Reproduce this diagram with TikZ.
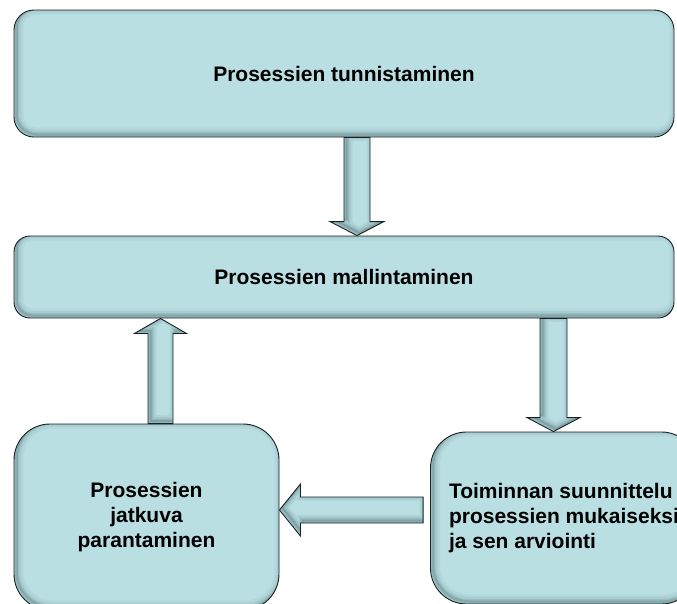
\documentclass[tikz,border=0pt]{standalone}
\usepackage{fontspec}
\setmainfont{Liberation Sans}
\usetikzlibrary{calc}

\definecolor{boxfill}{RGB}{186,223,227}
\definecolor{boxline}{RGB}{25,32,34}
\definecolor{boxshade}{RGB}{40,70,75}

\tikzset{
  % soft inner shadow along the left and lower edges of a rounded box
  innershade/.style={
    path picture={
      \foreach \w/\o in {14/0.05,9/0.07,5/0.11,2.5/0.16}{
        \draw[transform canvas={shift={(2.5pt,2.5pt)}}, line width=\w pt,
              draw=boxshade, draw opacity=\o, rounded corners=#1]
          (path picture bounding box.south west) rectangle
          (path picture bounding box.north east);
      }
    }
  },
  stage/.style={
    draw=boxline, line width=0.9pt, fill=boxfill, rounded corners=#1,
    innershade=#1, inner sep=0pt, align=center,
    font=\fontsize{21}{25}\selectfont\bfseries
  },
  arrowbody/.style={fill=boxfill},
  arrowedge/.style={draw=boxline, line width=0.9pt, line join=miter},
}

% Block arrow: #1 prefix for helper coordinates, #2 tail, #3 tip,
% #4 half shaft width, #5 half head width, #6 head length
\newcommand{\blockarrow}[6]{%
  \coordinate (#1n) at ($(#3)!#6!(#2)$);
  \coordinate (#1a) at ($(#2)!#4!90:(#3)$);
  \coordinate (#1b) at ($(#1n)!#4!90:(#3)$);
  \coordinate (#1c) at ($(#1n)!#5!90:(#3)$);
  \coordinate (#1d) at ($(#1n)!#5!-90:(#3)$);
  \coordinate (#1e) at ($(#1n)!#4!-90:(#3)$);
  \coordinate (#1f) at ($(#2)!#4!-90:(#3)$);
  \fill[arrowbody] (#1a) -- (#1b) -- (#1c) -- (#3) -- (#1d) -- (#1e) -- (#1f) -- cycle;
  \begin{scope}
    \clip (#1a) -- (#1b) -- (#1c) -- (#3) -- (#1d) -- (#1e) -- (#1f) -- cycle;
    \foreach \w/\o in {12/0.07,8/0.09,4.5/0.12,2/0.17}{
      \draw[transform canvas={shift={(2.5pt,2.5pt)}}, line width=\w pt,
            draw=boxshade, draw opacity=\o, line join=miter]
        (#1a) -- (#1b) -- (#1c) -- (#3) -- (#1d) -- (#1e) -- (#1f) -- cycle;
    }
  \end{scope}
  \draw[arrowedge] (#1a) -- (#1b) -- (#1c) -- (#3) -- (#1d) -- (#1e) -- (#1f) -- cycle;
}

\begin{document}
\begin{tikzpicture}[x=1pt,y=-1pt]
  \clip (0,0) rectangle (677,603);

  % process stages
  \node[stage=20, minimum width=660pt, minimum height=127pt] (ident)
    at (344,73.5) {Prosessien tunnistaminen};
  \node[stage=16, minimum width=660pt, minimum height=82pt] (model)
    at (344,277) {Prosessien mallintaminen};
  \node[stage=36, minimum width=265pt, minimum height=186pt] (improve)
    at (146.5,517) {Prosessien\\jatkuva\\parantaminen};
  \node[stage=36, minimum width=267pt, minimum height=172pt, align=left] (plan)
    at (564,518) {Toiminnan suunnittelu\\prosessien mukaiseksi\\ja sen arviointi};

  % identification -> modelling
  \coordinate (ia) at ([xshift=13pt]ident.south);
  \coordinate (ib) at ([xshift=13pt]model.north);
  \blockarrow{qa}{ia}{ib}{13pt}{27pt}{14pt}

  % modelling -> planning
  \coordinate (mb) at ([xshift=-10.5pt]plan.north);
  \coordinate (ma) at (mb |- model.south);
  \blockarrow{qb}{ma}{mb}{13.5pt}{26.5pt}{14pt}

  % planning -> continuous improvement
  \coordinate (pa) at ([shift={(-7pt,8pt)}]plan.west);
  \coordinate (pb) at (pa -| improve.east);
  \blockarrow{qc}{pa}{pb}{13pt}{26pt}{21pt}

  % continuous improvement -> modelling
  \coordinate (ca) at ([xshift=14pt]improve.north);
  \coordinate (cb) at (ca |- model.south);
  \blockarrow{qd}{ca}{cb}{12.5pt}{26pt}{15pt}
\end{tikzpicture}
\end{document}
